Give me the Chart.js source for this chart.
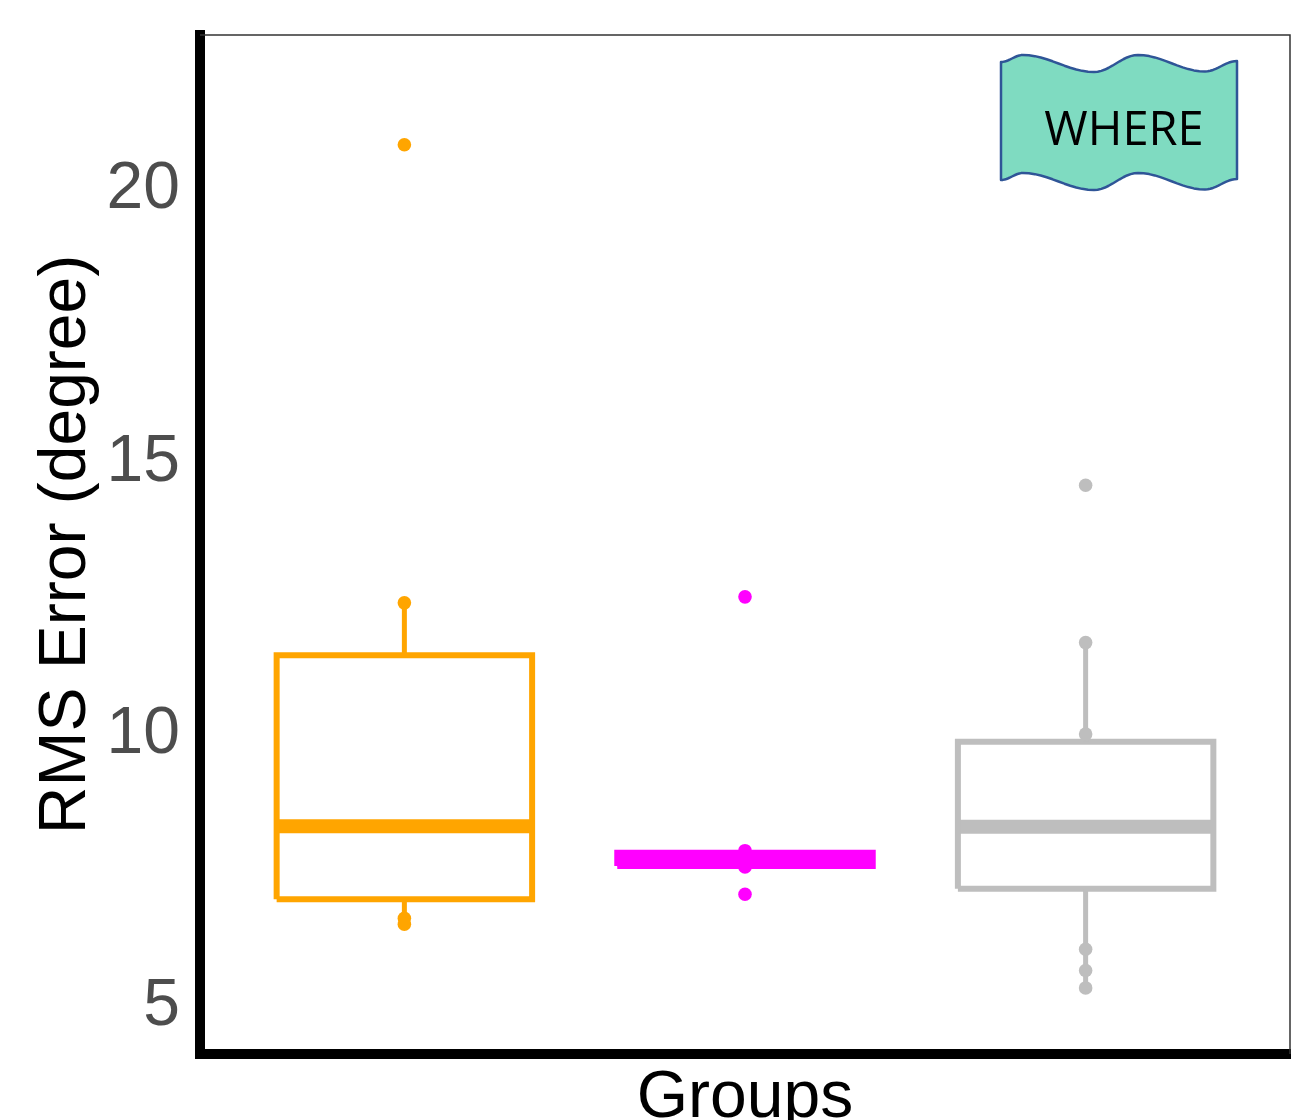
<!DOCTYPE html>
<html>
<head>
<meta charset="utf-8">
<script src="https://cdn.jsdelivr.net/npm/chart.js@4/dist/chart.umd.min.js"></script>
<style>
  html, body { margin: 0; padding: 0; background: #fff; overflow: hidden; }
  #wrap { width: 1291px; height: 1120px; position: relative; }
  #rms-chart { display: block; }
</style>
</head>
<body>
<div id="wrap"><canvas id="rms-chart"></canvas></div>
<script>
"use strict";
// groups (x positions 1..3 on a linear axis)
const groups = ["A", "B", "C"];
const groupColors = ["#FFA500", "#FF00FF", "#BEBEBE"];

// box statistics per group
const q1 = [6.98, 7.59, 7.17];
const median = [8.32, 7.71, 8.31];
const q3 = [11.46, 7.83, 9.87];
const whiskerLow = [6.52, 7.57, 5.35];
const whiskerHigh = [12.42, 7.87, 11.69];

// individual points drawn over the boxes
const pointsA = [20.83, 12.42, 6.63, 6.52];
const pointsB = [12.53, 7.87, 7.57, 7.07];
const pointsC = [14.58, 11.69, 10.01, 6.06, 5.67, 5.35];
const groupPoints = [pointsA, pointsB, pointsC];

const yTicks = [5, 10, 15, 20];
const xTicks = [1, 2, 3];

const boxHalf = 0.375;
const fontFamily = "'Liberation Sans', Arial, sans-serif";

const datasets = [];
groups.forEach((g, i) => {
    const x = i + 1;
    const c = groupColors[i];
    datasets.push({
        label: g + " points",
        data: groupPoints[i].map((v) => ({ x: x, y: v })),
        showLine: false,
        pointRadius: 6.8,
        pointBackgroundColor: c,
        pointBorderWidth: 0,
        order: 0,
    });
    const lineStyle = {
        showLine: true,
        pointRadius: 0,
        borderColor: c,
        fill: false,
        tension: 0,
        borderJoinStyle: "miter",
        borderCapStyle: "butt",
        order: 1,
    };
    datasets.push(Object.assign({}, lineStyle, {
        label: g + " upper whisker",
        data: [{ x: x, y: q3[i] }, { x: x, y: whiskerHigh[i] }],
        borderWidth: 5,
    }));
    datasets.push(Object.assign({}, lineStyle, {
        label: g + " lower whisker",
        data: [{ x: x, y: q1[i] }, { x: x, y: whiskerLow[i] }],
        borderWidth: 5,
    }));
    datasets.push(Object.assign({}, lineStyle, {
        label: g + " box",
        data: [
            { x: x - boxHalf, y: q1[i] },
            { x: x + boxHalf, y: q1[i] },
            { x: x + boxHalf, y: q3[i] },
            { x: x - boxHalf, y: q3[i] },
            { x: x - boxHalf, y: q1[i] },
        ],
        borderWidth: 6,
    }));
    datasets.push(Object.assign({}, lineStyle, {
        label: g + " median",
        data: [{ x: x - boxHalf, y: median[i] }, { x: x + boxHalf, y: median[i] }],
        borderWidth: 14,
    }));
});

// thin frame on top/right + the "WHERE" banner
const panelExtras = {
    id: "panelExtras",
    afterDraw(chart) {
        const ctx = chart.ctx;
        const ca = chart.chartArea;
        ctx.save();
        ctx.strokeStyle = "#333";
        ctx.lineWidth = 1.5;
        ctx.beginPath();
        ctx.moveTo(ca.left, ca.top);
        ctx.lineTo(ca.right, ca.top);
        ctx.lineTo(ca.right, ca.bottom);
        ctx.stroke();

        // wavy banner
        const L = ca.right - 289;
        const kx = [0, 22, 93, 137, 204, 236];
        const ky = [27, 20, 37, 20, 36.5, 26];
        const H = 118;
        const wave = [];
        for (let k = 0; k < kx.length - 1; k++) {
            for (let s = 0; s < 12; s++) {
                const t = s / 12;
                const f = (1 - Math.cos(Math.PI * t)) / 2;
                wave.push([L + kx[k] + (kx[k + 1] - kx[k]) * t, ca.top + ky[k] + (ky[k + 1] - ky[k]) * f]);
            }
        }
        wave.push([L + kx[kx.length - 1], ca.top + ky[ky.length - 1]]);
        ctx.beginPath();
        wave.forEach((p, j) => (j === 0 ? ctx.moveTo(p[0], p[1]) : ctx.lineTo(p[0], p[1])));
        for (let j = wave.length - 1; j >= 0; j--) ctx.lineTo(wave[j][0], wave[j][1] + H);
        ctx.closePath();
        ctx.fillStyle = "#7FDBC1";
        ctx.fill();
        ctx.strokeStyle = "#2F5597";
        ctx.lineWidth = 2.5;
        ctx.lineJoin = "round";
        ctx.stroke();

        ctx.fillStyle = "#000";
        ctx.font = "47px 'Open Sans', sans-serif";
        ctx.textAlign = "center";
        ctx.textBaseline = "middle";
        ctx.fillText("WHERE", L + 123, ca.top + 97);
        ctx.restore();
    },
};

const noPad = (s) => {
    s.paddingTop = 0;
    s.paddingBottom = 0;
    s.paddingLeft = 0;
    s.paddingRight = 0;
};

const config = {
    type: "scatter",
    data: { datasets: datasets },
    options: {
        responsive: true,
        maintainAspectRatio: false,
        animation: false,
        layout: { autoPadding: false, padding: { top: 35, right: 1, left: 0, bottom: 0 } },
        plugins: {
            legend: { display: false },
            tooltip: { enabled: false },
        },
        scales: {
            x: {
                type: "linear",
                min: 0.4,
                max: 3.6,
                afterBuildTicks: (s) => { s.ticks = xTicks.map((v) => ({ value: v })); },
                afterFit: (s) => { s.height = 66; noPad(s); },
                ticks: { callback: () => "", padding: 0 },
                grid: { drawOnChartArea: false, drawTicks: true, tickLength: 5, tickColor: "#333", tickWidth: 2 },
                border: { display: true, color: "#000", width: 10 },
                title: {
                    display: true,
                    text: "Groups",
                    color: "#000",
                    font: { family: fontFamily, size: 66, lineHeight: 0.64 },
                    padding: { top: 0, bottom: 0 },
                },
            },
            y: {
                type: "linear",
                min: 4.137,
                max: 22.846,
                afterBuildTicks: (s) => { s.ticks = yTicks.map((v) => ({ value: v })); },
                afterFit: (s) => { s.width = 200; noPad(s); },
                ticks: { color: "#4D4D4D", padding: 15, font: { family: fontFamily, size: 66 } },
                grid: { drawOnChartArea: false, drawTicks: true, tickLength: 5, tickColor: "#333", tickWidth: 2 },
                border: { display: true, color: "#000", width: 10 },
                title: {
                    display: true,
                    text: "RMS Error (degree)",
                    color: "#000",
                    font: { family: fontFamily, size: 66, lineHeight: 1.2 },
                    padding: { top: 27, bottom: 0 },
                },
            },
        },
    },
    plugins: [panelExtras],
};

const rmsChart = new Chart(document.getElementById("rms-chart"), config);
</script>
</body>
</html>
